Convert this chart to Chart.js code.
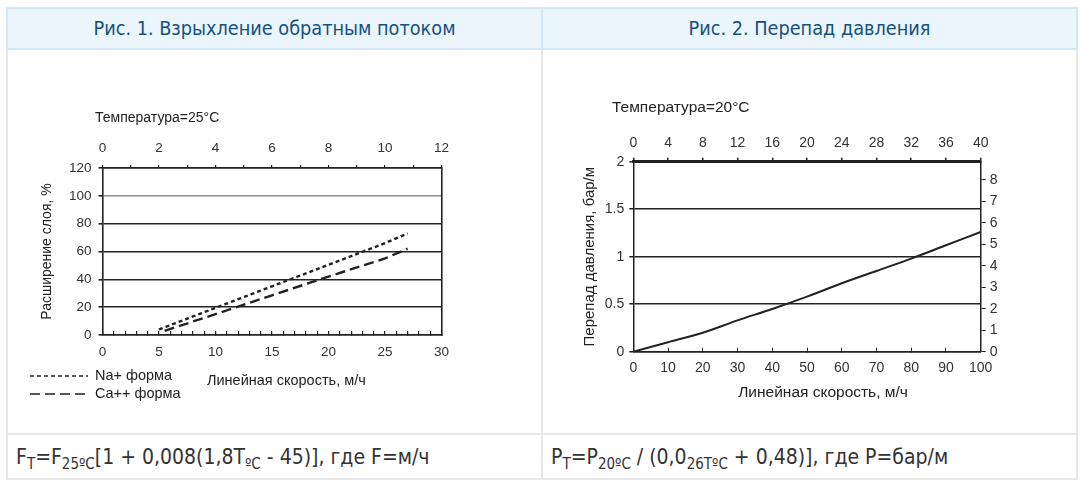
<!DOCTYPE html>
<html lang="ru">
<head>
<meta charset="utf-8">
<title>Взрыхление обратным потоком / Перепад давления</title>
<script src="https://cdn.jsdelivr.net/npm/chart.js@4/dist/chart.umd.min.js"></script>
<style>
html, body { margin: 0; padding: 0; background: #fff; }
body { width: 1084px; height: 486px; position: relative; overflow: hidden;
       font-family: "DejaVu Sans Condensed", "DejaVu Sans", sans-serif; }
.cell { position: absolute; box-sizing: border-box; }
.hdr { top: 7px; height: 43px; background: #eaf5fc; border: 2px solid #d4e7f5;
       color: #17507e; font-size: 19.7px; text-align: center; line-height: 40px; }
.bdy { top: 50px; height: 385px; border: 2px solid #e8e8e8; border-top: none; }
.ftr { top: 433px; height: 47px; border: 2px solid #e8e8e8; color: #333;
       font-size: 21px; line-height: 44px; padding-left: 8px; white-space: nowrap; }
.ftr sub { font-size: 15px; vertical-align: -5px; line-height: 0; }
.c1 { left: 6px; width: 537px; }
.c2 { left: 541px; width: 537px; }
.plot { position: absolute; top: 52px; width: 532px; height: 380px; }
</style>
</head>
<body>
<div class="cell hdr c1">Рис. 1. Взрыхление обратным потоком</div>
<div class="cell hdr c2">Рис. 2. Перепад давления</div>
<div class="cell bdy c1"></div>
<div class="cell bdy c2"></div>
<div class="cell ftr c1">F<sub>T</sub>=F<sub>25ºC</sub>[1 + 0,008(1,8T<sub>ºC</sub> - 45)], где F=м/ч</div>
<div class="cell ftr c2">P<sub>T</sub>=P<sub>20ºC</sub> / (0,0<sub>26TºC</sub> + 0,48)], где P=бар/м</div>
<div class="plot" style="left:8px"><canvas id="expansion" width="532" height="380"></canvas></div>
<div class="plot" style="left:543px"><canvas id="pressure" width="532" height="380"></canvas></div>
<script>
"use strict";

// #region Data
// Рис. 1 - bed expansion vs linear velocity, 25 °C
const naVelocity = [5, 10, 15, 20, 25, 27];
const naExpansion = [4, 19.5, 35, 50.5, 66, 73];
const caVelocity = [5.5, 10, 15, 20, 25, 27];
const caExpansion = [3, 15, 28.5, 42, 55, 62];
const expansionTicks = [0, 20, 40, 60, 80, 100, 120];
const velocityLabels1 = [0, 5, 10, 15, 20, 25, 30];
const topLabels1 = [0, 2, 4, 6, 8, 10, 12];

// Рис. 2 - pressure drop vs linear velocity, 20 °C
const dpVelocity = [0, 10, 20, 30, 40, 50, 60, 70, 80, 90, 100];
const dpDrop = [0, 0.1, 0.2, 0.33, 0.45, 0.58, 0.72, 0.85, 0.98, 1.12, 1.26];
const dropTicks = [0, 0.5, 1, 1.5, 2];
const velocityLabels2 = [0, 10, 20, 30, 40, 50, 60, 70, 80, 90, 100];
const topLabels2 = [0, 4, 8, 12, 16, 20, 24, 28, 32, 36, 40];
const rightLabels2 = [0, 1, 2, 3, 4, 5, 6, 7, 8];
// #endregion

// #region Helpers
const INK = "#222";
const LABEL = "#333";
const FONT = "'Liberation Sans', Arial, sans-serif";

function toPoints(xs, ys) {
    return xs.map((x, i) => ({ x: x, y: ys[i] }));
}

function fixedTicks(values) {
    return (scale) => {
        scale.ticks = values.map((v) => ({ value: v }));
    };
}

function fixedWidth(w) {
    return (scale) => { scale.width = w; };
}

function fixedHeight(h) {
    return (scale) => { scale.height = h; };
}

/* Free text on the canvas (captions that are not tied to an axis) */
const textNotes = {
    id: "textNotes",
    afterDraw(chart, args, opts) {
        const ctx = chart.ctx;
        ctx.save();
        for (const n of opts.items || []) {
            ctx.font = n.font;
            ctx.fillStyle = INK;
            ctx.textAlign = n.align || "left";
            ctx.textBaseline = "middle";
            ctx.fillText(n.text, n.x, n.y);
        }
        ctx.restore();
    },
};

/* Legend in the lower left corner, one row per dataset */
const cornerLegend = {
    id: "cornerLegend",
    afterDraw(chart, args, opts) {
        if (!opts.display) return;
        const ctx = chart.ctx;
        chart.data.datasets.forEach((ds, i) => {
            const y = opts.y + i * opts.rowHeight;
            ctx.save();
            ctx.strokeStyle = ds.borderColor;
            ctx.lineWidth = 1.6;
            ctx.setLineDash(ds.borderDash || []);
            ctx.beginPath();
            ctx.moveTo(opts.x, y);
            ctx.lineTo(opts.x + opts.sampleWidth, y);
            ctx.stroke();
            ctx.setLineDash([]);
            ctx.font = opts.font;
            ctx.fillStyle = INK;
            ctx.textBaseline = "middle";
            ctx.fillText(ds.label, opts.x + opts.sampleWidth + opts.gap, y);
            ctx.restore();
        });
    },
};
// #endregion

// #region Рис. 1
const tick1 = { family: FONT, size: 13.5 };

new Chart(document.getElementById("expansion"), {
    type: "line",
    data: {
        datasets: [
            {
                label: "Na+ форма",
                data: toPoints(naVelocity, naExpansion),
                borderColor: INK,
                borderWidth: 2.4,
                borderDash: [4, 3],
                pointRadius: 0,
                tension: 0,
            },
            {
                label: "Ca++ форма",
                data: toPoints(caVelocity, caExpansion),
                borderColor: INK,
                borderWidth: 2.4,
                borderDash: [10, 5],
                pointRadius: 0,
                tension: 0,
            },
        ],
    },
    options: {
        responsive: false,
        animation: false,
        locale: "en-US",
        layout: { padding: { left: 0, right: 98.5, top: 0, bottom: 0 } },
        plugins: {
            legend: { display: false },
            tooltip: { enabled: false },
            textNotes: {
                items: [
                    { text: "Температура=25°C", x: 87, y: 66, font: `14px ${FONT}` },
                    { text: "Линейная скорость, м/ч", x: 199, y: 329, font: `14.5px ${FONT}` },
                ],
            },
            cornerLegend: {
                display: true, x: 22, y: 324, rowHeight: 18,
                sampleWidth: 58, gap: 7, font: `14.5px ${FONT}`,
            },
        },
        scales: {
            x: {
                type: "linear", position: "bottom", min: 0, max: 30,
                afterFit: fixedHeight(97),
                border: { color: INK, width: 1.6 },
                grid: { drawOnChartArea: false, tickLength: -4, color: INK, lineWidth: 1.2 },
                ticks: {
                    stepSize: 1, autoSkip: false, maxRotation: 0, padding: 13,
                    color: LABEL, font: tick1,
                    callback: (v) => (velocityLabels1.includes(v) ? String(v) : ""),
                },
            },
            x2: {
                type: "linear", position: "top", min: 0, max: 12,
                afterFit: fixedHeight(116),
                border: { color: INK, width: 1.6 },
                grid: { drawOnChartArea: false, tickLength: 3, color: INK, lineWidth: 1.2 },
                ticks: {
                    stepSize: 1, autoSkip: false, maxRotation: 0, padding: 9,
                    color: LABEL, font: tick1,
                    callback: (v) => (topLabels1.includes(v) ? String(v) : ""),
                },
            },
            y: {
                type: "linear", position: "left", min: 0, max: 120,
                afterFit: fixedWidth(94.5),
                afterBuildTicks: fixedTicks(expansionTicks),
                border: { color: INK, width: 1.6 },
                grid: {
                    tickLength: 4,
                    color: (c) => (c.tick && c.tick.value === 100 ? "#8c8c8c" : INK),
                    tickColor: INK,
                    lineWidth: 1.6,
                },
                ticks: { padding: 7, color: LABEL, font: tick1 },
                title: {
                    display: true, text: "Расширение слоя, %", color: INK,
                    font: { family: FONT, size: 14 }, padding: { top: 30.6, bottom: 0 },
                },
            },
            yr: {
                type: "linear", position: "right", min: 0, max: 120,
                afterFit: fixedWidth(0),
                border: { color: INK, width: 1.6 },
                grid: { drawOnChartArea: false, drawTicks: false },
                ticks: { display: false },
            },
        },
    },
    plugins: [textNotes, cornerLegend],
});
// #endregion

// #region Рис. 2
const tick2 = { family: FONT, size: 14 };

new Chart(document.getElementById("pressure"), {
    type: "line",
    data: {
        datasets: [
            {
                label: "Перепад давления",
                data: toPoints(dpVelocity, dpDrop),
                borderColor: INK,
                borderWidth: 2,
                pointRadius: 0,
                tension: 0.3,
            },
        ],
    },
    options: {
        responsive: false,
        animation: false,
        locale: "en-US",
        layout: { padding: 0 },
        plugins: {
            legend: { display: false },
            tooltip: { enabled: false },
            textNotes: {
                items: [
                    { text: "Температура=20°C", x: 69, y: 56, font: `15.5px ${FONT}` },
                    { text: "Линейная скорость, м/ч", x: 280, y: 341, align: "center", font: `15.5px ${FONT}` },
                ],
            },
            cornerLegend: { display: false },
        },
        scales: {
            x: {
                type: "linear", position: "bottom", min: 0, max: 100,
                afterFit: fixedHeight(80.3),
                afterBuildTicks: fixedTicks(velocityLabels2),
                border: { color: INK, width: 1.5 },
                grid: { drawOnChartArea: false, tickLength: -4, color: INK, lineWidth: 1 },
                ticks: { autoSkip: false, maxRotation: 0, padding: 11.9, color: LABEL, font: tick2 },
            },
            x2: {
                type: "linear", position: "top", min: 0, max: 40,
                afterFit: fixedHeight(109.7),
                afterBuildTicks: fixedTicks(topLabels2),
                border: { color: INK, width: 3 },
                grid: { drawOnChartArea: false, tickLength: 4, color: INK, lineWidth: 1.5 },
                ticks: { autoSkip: false, maxRotation: 0, padding: 6.3, color: LABEL, font: tick2 },
            },
            y: {
                type: "linear", position: "left", min: 0, max: 2,
                afterFit: fixedWidth(90.3),
                afterBuildTicks: fixedTicks(dropTicks),
                border: { color: INK, width: 1.5 },
                grid: { tickLength: 4, color: INK, lineWidth: 1.5 },
                ticks: { padding: 5, color: LABEL, font: tick2, callback: (v) => String(v) },
                title: {
                    display: true, text: "Перепад давления, бар/м", color: INK,
                    font: { family: FONT, size: 15 }, padding: { top: 38, bottom: 0 },
                },
            },
            y2: {
                type: "linear", position: "right", min: 0, max: 8.85,
                afterFit: fixedWidth(94.3),
                afterBuildTicks: fixedTicks(rightLabels2),
                border: { color: INK, width: 1.5 },
                grid: { drawOnChartArea: false, tickLength: 5, color: INK, lineWidth: 1 },
                ticks: { padding: 4, color: LABEL, font: tick2, callback: (v) => String(v) },
            },
        },
    },
    plugins: [textNotes, cornerLegend],
});
// #endregion
</script>
</body>
</html>
